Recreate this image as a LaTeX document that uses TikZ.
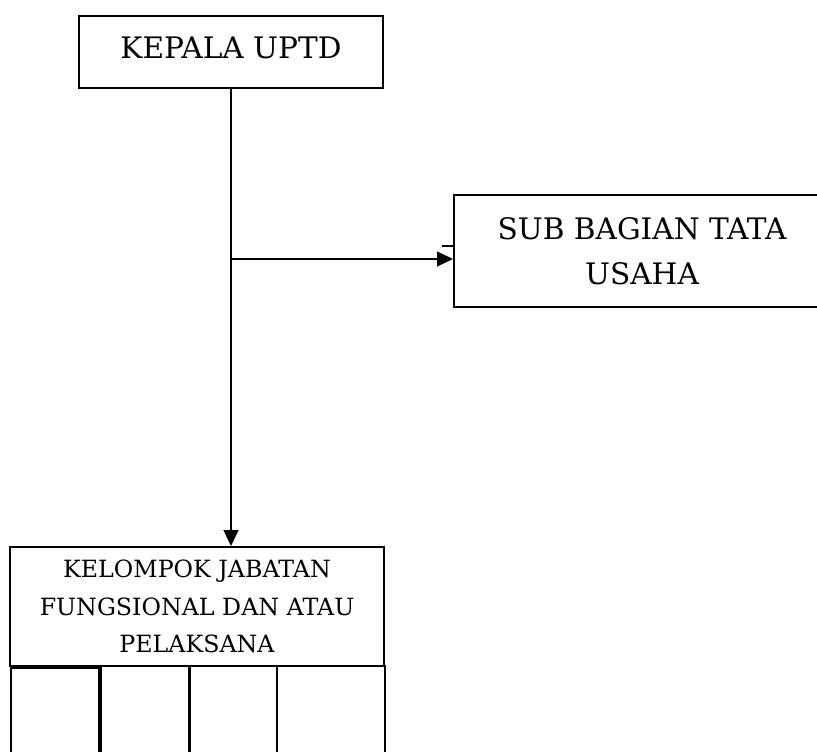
\documentclass[tikz,border=0pt]{standalone}
\usepackage{fontspec}
\setmainfont{DejaVu Serif}
\usetikzlibrary{arrows.meta,positioning}
\tikzset{
  unitbox/.style={draw, line width=1.4pt, inner sep=0pt, align=center},
  bigtext/.style={font=\fontsize{22.2}{33.75}\selectfont},
  smalltext/.style={font=\fontsize{17.8}{28}\selectfont},
  link/.style={line width=1.5pt, -{Triangle[length=12pt,width=11pt]}}
}
\begin{document}
\begin{tikzpicture}[x=0.75pt,y=-0.75pt]
        \useasboundingbox (0,0) rectangle (817,752);

        % Head of the unit
        \node[unitbox,bigtext,text depth=7pt,minimum width=228pt,minimum height=54pt] (kepala)
            at (231,52) {KEPALA UPTD};

        % Administration sub-section (runs off the right edge)
        \node[unitbox,bigtext,minimum width=282pt,minimum height=84pt] (subbag)
            at (642,251) {SUB BAGIAN TATA\\USAHA};

        % Functional group
        \node[unitbox,smalltext,minimum width=280.5pt,minimum height=89.25pt] (kelompok)
            at (197,606.5) {KELOMPOK JABATAN\\FUNGSIONAL DAN ATAU\\PELAKSANA};

        % Empty cells under the group
        \node[unitbox,anchor=north west,minimum width=66pt,minimum height=93pt] (cellA) at (10,667) {};
        \node[unitbox,anchor=north west,minimum width=66.75pt,minimum height=93pt] (cellB) at (100,665) {};
        \node[unitbox,anchor=north west,minimum width=66pt,minimum height=93pt] (cellC) at (188,665) {};
        \node[unitbox,anchor=north west,minimum width=81pt,minimum height=93pt] (cellD) at (276,665) {};

        % Lines of command
        \coordinate (branch) at (231,259);
        \coordinate (tick) at (442,246);
        \draw[link] (kepala.south) -- (kepala.south |- kelompok.north);
        \draw[link] (branch) -- (branch -| subbag.west);
        \draw[line width=0.9pt] (tick) -- (tick -| subbag.west);

    \end{tikzpicture}
\end{document}
